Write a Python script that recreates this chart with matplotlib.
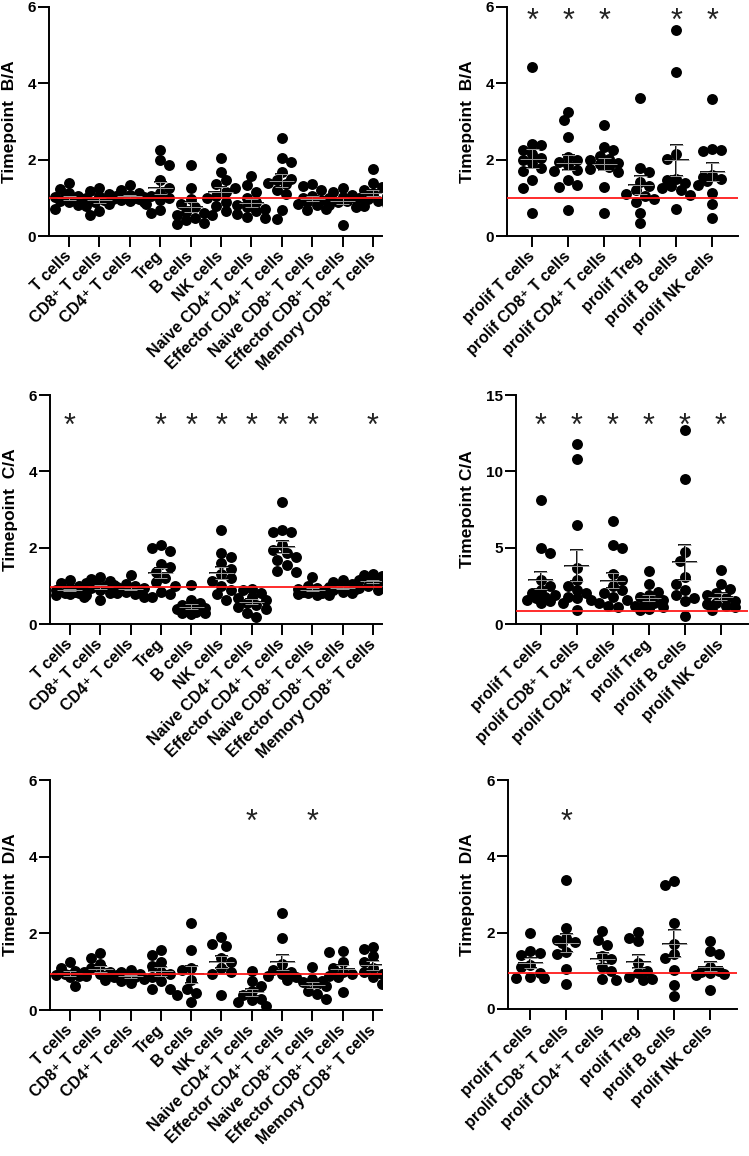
import numpy as np
import matplotlib.pyplot as plt

plt.rcParams['font.family'] = ['Liberation Sans', 'DejaVu Sans']
plt.rcParams['font.weight'] = 'bold'

W, H = 749, 1156

cells = ['T cells', 'CD8⁺ T cells', 'CD4⁺ T cells', 'Treg', 'B cells', 'NK cells',
         'Naive CD4⁺ T cells', 'Effector CD4⁺ T cells', 'Naive CD8⁺ T cells',
         'Effector CD8⁺ T cells', 'Memory CD8⁺ T cells']
prolif = ['prolif T cells', 'prolif CD8⁺ T cells', 'prolif CD4⁺ T cells',
          'prolif Treg', 'prolif B cells', 'prolif NK cells']

# Timepoint B/A
ba_cells = [
    [1.38, 1.22, 1.12, 1.05, 1.02, 0.98, 0.95, 0.92, 0.88, 0.82, 0.72, 1.0],
    [1.25, 1.18, 1.1, 1.05, 1.0, 0.98, 0.95, 0.9, 0.85, 0.78, 0.65, 0.55],
    [1.33, 1.2, 1.12, 1.08, 1.05, 1.02, 1.0, 0.98, 0.95, 0.92, 0.88, 1.0],
    [2.25, 1.98, 1.86, 1.46, 1.25, 1.12, 1.05, 1.0, 0.95, 0.85, 0.68, 0.6],
    [1.86, 1.25, 0.97, 0.85, 0.75, 0.62, 0.55, 0.48, 0.42, 0.35, 0.32, 0.6],
    [2.05, 1.68, 1.46, 1.35, 1.25, 1.15, 1.05, 1.0, 0.9, 0.78, 0.65, 0.55],
    [1.57, 1.33, 1.15, 1.0, 0.9, 0.82, 0.75, 0.7, 0.65, 0.58, 0.5, 0.48],
    [2.57, 2.05, 1.95, 1.68, 1.5, 1.46, 1.35, 1.2, 1.1, 0.68, 0.45, 1.4],
    [1.35, 1.3, 1.2, 1.05, 1.0, 0.95, 0.9, 0.85, 0.8, 0.72, 0.68],
    [1.25, 1.15, 1.08, 1.02, 1.0, 0.97, 0.92, 0.88, 0.8, 0.75, 0.29],
    [1.75, 1.38, 1.28, 1.2, 1.12, 1.05, 1.0, 0.98, 0.92, 0.85, 0.78],
]
ba_prolif = [
    [4.43, 2.42, 2.38, 2.25, 2.15, 2.05, 1.98, 1.9, 1.77, 1.7, 1.46, 1.25, 0.6],
    [3.25, 3.03, 2.6, 2.07, 2.0, 1.94, 1.85, 1.73, 1.7, 1.46, 1.33, 1.28, 0.68],
    [2.9, 2.33, 2.25, 2.1, 2.02, 1.98, 1.92, 1.88, 1.82, 1.75, 1.68, 1.29, 0.6],
    [3.62, 1.77, 1.68, 1.42, 1.3, 1.2, 1.1, 1.05, 0.97, 0.9, 0.6, 0.35],
    [5.4, 4.3, 2.16, 2.03, 1.5, 1.46, 1.38, 1.3, 1.25, 1.2, 1.07, 0.72],
    [3.6, 2.29, 2.25, 2.22, 1.6, 1.55, 1.5, 1.45, 1.33, 1.12, 0.85, 0.46],
]

# Timepoint C/A
ca_cells = [
    [1.15, 1.08, 1.0, 0.95, 0.9, 0.88, 0.85, 0.82, 0.8, 0.78, 0.75, 0.72],
    [1.22, 1.18, 1.12, 1.08, 1.05, 1.02, 1.0, 0.95, 0.9, 0.82, 0.75, 0.63],
    [1.28, 1.05, 1.0, 0.97, 0.95, 0.92, 0.9, 0.88, 0.85, 0.82, 0.78, 0.72],
    [2.08, 1.98, 1.9, 1.58, 1.5, 1.35, 1.2, 1.1, 1.0, 0.85, 0.78, 0.72],
    [1.02, 0.62, 0.55, 0.5, 0.45, 0.42, 0.38, 0.35, 0.32, 0.3, 0.28, 0.27],
    [2.46, 1.85, 1.76, 1.6, 1.45, 1.32, 1.2, 1.12, 1.0, 0.9, 0.78, 0.63],
    [0.93, 0.88, 0.8, 0.72, 0.68, 0.62, 0.55, 0.5, 0.45, 0.4, 0.3, 0.19],
    [3.2, 2.46, 2.41, 2.4, 2.08, 1.95, 1.85, 1.75, 1.68, 1.55, 1.4, 1.37],
    [1.22, 1.0, 0.95, 0.92, 0.9, 0.88, 0.85, 0.82, 0.8, 0.78, 0.75],
    [1.15, 1.1, 1.05, 1.0, 0.97, 0.95, 0.92, 0.9, 0.85, 0.8, 0.75],
    [1.32, 1.28, 1.25, 1.2, 1.15, 1.1, 1.05, 1.0, 0.95, 0.9],
]
ca_prolif = [
    [8.1, 5.0, 4.65, 2.9, 2.5, 2.2, 2.0, 1.9, 1.8, 1.7, 1.6, 1.5, 1.4],
    [11.8, 10.8, 6.5, 3.7, 2.9, 2.5, 2.2, 2.0, 1.8, 1.7, 1.6, 1.4, 0.9],
    [6.75, 5.15, 4.95, 3.3, 2.9, 2.5, 2.2, 2.0, 1.8, 1.6, 1.4, 1.2, 1.1],
    [3.45, 2.6, 2.1, 1.9, 1.75, 1.6, 1.4, 1.3, 1.2, 1.1, 1.0, 0.9],
    [12.7, 9.5, 4.7, 4.1, 3.1, 2.6, 2.2, 1.9, 1.7, 1.5, 0.5],
    [3.55, 2.6, 2.3, 2.0, 1.9, 1.7, 1.5, 1.4, 1.3, 1.2, 1.1, 0.9],
]

# Timepoint D/A
da_cells = [
    [1.25, 1.1, 1.02, 0.98, 0.95, 0.92, 0.88, 0.85, 0.62],
    [1.5, 1.35, 1.2, 1.1, 1.0, 0.95, 0.9, 0.85, 0.78],
    [1.05, 1.0, 0.95, 0.92, 0.88, 0.85, 0.8, 0.75, 0.7],
    [1.56, 1.43, 1.25, 1.15, 1.0, 0.95, 0.85, 0.75, 0.56, 0.56],
    [2.28, 1.56, 1.1, 1.05, 0.78, 0.55, 0.45, 0.4, 0.22],
    [1.9, 1.73, 1.68, 1.35, 1.25, 1.1, 1.0, 0.95, 0.4],
    [1.02, 0.75, 0.62, 0.5, 0.4, 0.3, 0.25, 0.2, 0.1],
    [2.54, 1.89, 1.2, 1.05, 1.0, 0.95, 0.9, 0.85, 0.78],
    [1.12, 0.8, 0.75, 0.72, 0.68, 0.62, 0.5, 0.42, 0.3],
    [1.55, 1.52, 1.25, 1.1, 1.0, 0.95, 0.9, 0.85, 0.48],
    [1.65, 1.6, 1.4, 1.26, 1.1, 1.0, 0.95, 0.85, 0.69],
]
da_prolif = [
    [2.0, 1.52, 1.47, 1.42, 1.15, 1.1, 0.95, 0.85, 0.82, 0.8],
    [3.38, 2.12, 1.85, 1.8, 1.75, 1.72, 1.5, 1.45, 1.05, 0.65],
    [2.04, 1.82, 1.68, 1.4, 1.3, 1.1, 1.0, 0.78, 0.77],
    [2.03, 1.85, 1.78, 1.2, 1.0, 0.95, 0.85, 0.78, 0.75],
    [3.35, 3.25, 2.26, 1.7, 1.43, 1.34, 1.03, 0.63, 0.35],
    [1.78, 1.52, 1.45, 1.1, 1.0, 0.98, 0.95, 0.92, 0.9, 0.5],
]

# significance marks (category indices)
ba_cells_stars = []
ba_prolif_stars = [0, 1, 2, 4, 5]
ca_cells_stars = [0, 3, 4, 5, 6, 7, 8, 10]
ca_prolif_stars = [0, 1, 2, 3, 4, 5]
da_cells_stars = [6, 8]
da_prolif_stars = [1]


def swarm(ax, x0, vals, d):
    # simple beeswarm in pixel space
    vals = np.asarray(vals, float)
    pts = ax.transData.transform(np.column_stack([np.full(len(vals), x0), vals]))
    cx0 = pts[0, 0]
    out = np.zeros(len(vals))
    placed = []
    for n, i in enumerate(np.argsort(-vals)):
        py = pts[i, 1]
        signs = [-1, 1] if n % 2 else [1, -1]
        cands = [cx0] + [cx0 + s * k * d * 0.42 for k in range(1, 4) for s in signs]
        best, bestd = None, -1
        for cx in cands:
            dm = min([np.hypot(cx - qx, py - qy) for qx, qy in placed], default=1e9)
            if dm >= 0.85 * d:
                best = cx
                break
            if dm > bestd:
                best, bestd = cx, dm
        placed.append((best, py))
        out[i] = best
    back = ax.transData.inverted().transform(np.column_stack([out, pts[:, 1]]))
    return back[:, 0]


fig = plt.figure(figsize=(W / 100, H / 100), dpi=100)


def panel(box, xlim, cats, groups, ymax, yticks, ylabel, lab_x, ref, stars, star_y):
    l, t, r, b = box
    ax = fig.add_axes([l / W, 1 - b / H, (r - l) / W, (b - t) / H])
    ax.set_xlim(*xlim)
    ax.set_ylim(0, ymax)
    ppu = ax.transData.transform((1, 0))[0] - ax.transData.transform((0, 0))[0]
    for i, g in enumerate(groups):
        xs = swarm(ax, i, g, 11)
        ax.scatter(xs, g, s=62, color='black', linewidths=0, zorder=3)
        m = np.mean(g)
        se = np.std(g, ddof=1) / np.sqrt(len(g))
        hw = 12.5 / ppu
        cw = 6.5 / ppu
        for c, lw, z in (('black', 1.3, 2), ('#9a9a9a', 0.7, 4)):
            ax.hlines(m, i - hw, i + hw, color=c, lw=lw, zorder=z)
            ax.hlines([m - se, m + se], i - cw, i + cw, color=c, lw=lw, zorder=z)
            ax.vlines(i, m - se, m + se, color=c, lw=lw, zorder=z)
    ax.axhline(ref, color='#ff1a1a', lw=1.3, zorder=5)
    for i in stars:
        ax.annotate('*', xy=(i, star_y), xytext=(0, -12.5), textcoords='offset points',
                    ha='center', va='baseline', fontsize=22, fontweight='normal',
                    color='#222222')
    ax.spines['top'].set_visible(False)
    ax.spines['right'].set_visible(False)
    for sp in ('left', 'bottom'):
        ax.spines[sp].set_linewidth(1.4)
    ax.set_yticks(yticks)
    ax.set_yticklabels([str(v) for v in yticks], fontweight='bold')
    ax.set_xticks(range(len(cats)))
    ax.set_xticklabels(cats, rotation=45, ha='right', va='center',
                       rotation_mode='anchor', fontweight='bold')
    ax.tick_params(axis='y', length=8, width=1.4, labelsize=11, pad=1.5)
    ax.tick_params(axis='x', length=8, width=1.4, labelsize=11.5, pad=5)
    ax.set_ylabel(ylabel, fontsize=12.5, fontweight='bold')
    ax.yaxis.set_label_coords(lab_x, 0.5)
    return ax


panel((49, 7, 382, 236), (-0.66, 10.3), cells, ba_cells, 6, [0, 2, 4, 6],
      'Timepoint  B/A', -0.096, 1.0, ba_cells_stars, 5.85)
panel((507, 7, 738, 236), (-0.7, 5.72), prolif, ba_prolif, 6, [0, 2, 4, 6],
      'Timepoint  B/A', -0.139, 1.0, ba_prolif_stars, 5.85)
panel((50, 395, 382, 624), (-0.66, 10.3), cells, ca_cells, 6, [0, 2, 4, 6],
      'Timepoint  C/A', -0.096, 0.98, ca_cells_stars, 5.41)
panel((516, 395, 748, 624), (-0.69, 5.75), prolif, ca_prolif, 15, [0, 5, 10, 15],
      'Timepoint C/A', -0.177, 0.87, ca_prolif_stars, 13.5)
panel((50, 780, 382, 1010), (-0.66, 10.3), cells, da_cells, 6, [0, 2, 4, 6],
      'Timepoint  D/A', -0.096, 0.935, da_cells_stars, 5.13)
panel((508, 780, 737, 1009), (-0.62, 5.75), prolif, da_prolif, 6, [0, 2, 4, 6],
      'Timepoint  D/A', -0.144, 0.935, da_prolif_stars, 5.13)

fig.savefig('out.png', dpi=100)
